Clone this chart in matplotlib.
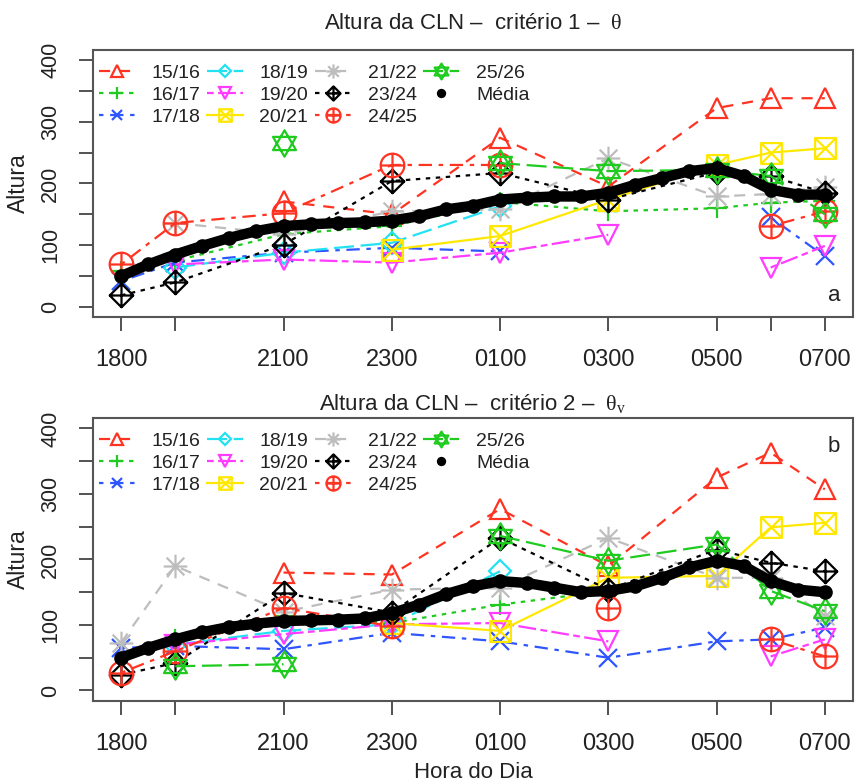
import numpy as np
import matplotlib
matplotlib.use("Agg")
import matplotlib.pyplot as plt
from matplotlib.path import Path

plt.rcParams['font.family'] = ['Liberation Sans', 'DejaVu Sans']
plt.rcParams['mathtext.fontset'] = 'custom'
plt.rcParams['mathtext.rm'] = 'Liberation Serif'
plt.rcParams['mathtext.it'] = 'Liberation Serif'

nan = np.nan

# hours (18 = 1800, 25 = 0100 of next day, ...)
horas = [18, 19, 21, 23, 25, 27, 29, 30, 31]
hora_labels = ['1800', '', '2100', '2300', '0100', '0300', '0500', '', '0700']

temporadas = ['15/16', '16/17', '17/18', '18/19', '19/20', '20/21',
              '21/22', '23/24', '24/25', '25/26']

# criterio 1 - theta
altura_a = [
    [nan, nan, 171, 150, 274, 195, 322, 338, 338],   # 15/16
    [58, 75, 118, 131, 170, 155, 160, 169, 172],     # 16/17
    [42, 72, 88, 96, 90, nan, nan, 145, 82],         # 17/18
    [nan, 64, 88, 104, 163, nan, nan, nan, nan],     # 18/19
    [nan, 69, 77, 72, 88, 117, nan, 64, 99],         # 19/20
    [nan, nan, nan, 93, 115, 174, 230, 250, 257],    # 20/21
    [nan, 136, 118, 155, 158, 241, 179, 183, 195],   # 21/22
    [19, 40, 101, 204, 217, 174, 218, 212, 185],     # 23/24
    [69, 136, 152, 230, 230, nan, nan, 131, 155],    # 24/25
    [nan, nan, 265, nan, 233, 220, 222, 212, 150],   # 25/26
]

# criterio 2 - theta_v
altura_b = [
    [nan, nan, 180, 177, 277, 190, 325, 363, 307],   # 15/16
    [nan, 78, 114, 103, 131, 152, nan, nan, nan],    # 16/17
    [65, 68, 63, 88, 75, 50, 75, 78, 96],            # 17/18
    [nan, 70, 91, 101, 182, nan, nan, nan, nan],     # 18/19
    [nan, 70, 86, 101, 103, 75, nan, 52, 78],        # 19/20
    [nan, nan, nan, 103, 91, 172, 175, 249, 256],    # 20/21
    [73, 190, 120, 154, 157, 233, 172, 172, 114],    # 21/22
    [24, 42, 149, 119, 233, 154, 215, 195, 182],     # 23/24
    [27, 60, 126, 98, nan, 126, nan, 78, 52],        # 24/25
    [nan, 37, 40, nan, 236, 198, 223, 152, 121],     # 25/26
]

# smoothed mean, read every half hour
media_hora = [18.0, 18.5, 19.0, 19.5, 20.0, 20.5, 21.0, 21.5, 22.0, 22.5,
              23.0, 23.5, 24.0, 24.5, 25.0, 25.5, 26.0, 26.5, 27.0, 27.5,
              28.0, 28.5, 29.0, 29.5, 30.0, 30.5, 31.0]
media_a = [50, 69, 85, 99, 112, 123, 131, 134, 136, 137, 140, 147, 158, 164,
           174, 177, 179, 179, 185, 198, 209, 220, 225, 212, 190, 182, 182]
media_b = [50, 65, 78, 89, 97, 102, 106, 107, 108, 110, 118, 131, 147, 159,
           167, 164, 157, 150, 152, 159, 172, 188, 198, 190, 167, 154, 150]


def seg(p0, p1):
    return Path([p0, p1], [Path.MOVETO, Path.LINETO])


def poly(pts):
    return Path(pts + [pts[0]], [Path.MOVETO] + [Path.LINETO] * (len(pts) - 1) + [Path.CLOSEPOLY])


plus_p = Path.make_compound_path(seg((-1, 0), (1, 0)), seg((0, -1), (0, 1)))
cross_p = Path.make_compound_path(seg((-0.75, -0.75), (0.75, 0.75)), seg((-0.75, 0.75), (0.75, -0.75)))
square_x = Path.make_compound_path(poly([(-1, -1), (1, -1), (1, 1), (-1, 1)]),
                                   seg((-1, -1), (1, 1)), seg((-1, 1), (1, -1)))
asterisk = Path.make_compound_path(plus_p, cross_p)
diamond_plus = Path.make_compound_path(poly([(0, -1), (1, 0), (0, 1), (-1, 0)]), plus_p)
circ = Path.unit_circle()
circle_plus = Path.make_compound_path(Path(circ.vertices * 1.0, circ.codes), plus_p)
david = Path.make_compound_path(poly([(-0.87, -0.5), (0.87, -0.5), (0, 1)]),
                                poly([(-0.87, 0.5), (0.87, 0.5), (0, -1)]))

red = '#FF3322'
green = '#1FCB1F'
cores = [red, green, '#2F55FF', '#22E2F2', '#FF3CFF', '#FFE800',
         '#BDBDBD', 'black', red, green]
marcadores = ['^', plus_p, 'x', 'D', 'v', square_x, asterisk, diamond_plus,
              circle_plus, david]
tamanhos = [15, 15, 13, 11, 15, 15, 17, 17, 17, 19]
dashed = (0, (5, 4))
dotted = (0, (2, 2.5))
dotdash = (0, (2, 3, 6, 3))
longdash = (0, (9, 3))
twodash = (0, (3, 2, 8, 2))
estilos = [dashed, dotted, dotdash, longdash, twodash, '-',
           dashed, dotted, dotdash, longdash]

txt = '#222222'

fig = plt.figure(figsize=(8.57, 7.84), dpi=100)
ax_a = fig.add_axes([0.1085, 0.5957, 0.8868, 0.3405])
ax_b = fig.add_axes([0.1085, 0.1059, 0.8868, 0.3610])


def painel(ax, alturas, media, titulo, tpad, letra, letra_y, leg_y):
    x = np.array(horas, dtype=float)
    for i, nome in enumerate(temporadas):
        y = np.array(alturas[i], dtype=float)
        ax.plot(x, y, color=cores[i], linestyle=estilos[i], lw=1.6,
                marker=marcadores[i], ms=tamanhos[i], mfc='none',
                mec=cores[i], mew=1.6, label=nome)
    ax.plot(media_hora, media, color='black', lw=7.5, solid_capstyle='round', zorder=5)
    ax.plot(media_hora, media, 'o', color='black', ms=9.5, zorder=6,
            label='Média')
    ax.set_xlim(17.48, 31.52)
    ax.set_ylim(-16, 416)
    ax.set_xticks(horas)
    ax.set_xticklabels(hora_labels, fontsize=17)
    ax.set_yticks([0, 50, 100, 150, 200, 250, 300, 350, 400])
    ax.set_yticklabels(['0', '', '100', '', '200', '', '300', '', '400'],
                       rotation=90, va='center', fontsize=15.5)
    ax.tick_params(axis='both', length=10, width=1.3, color='#444444',
                   labelcolor=txt)
    ax.tick_params(axis='x', pad=13)
    ax.tick_params(axis='y', pad=13)
    for s in ax.spines.values():
        s.set_color('#555555')
        s.set_linewidth(1.5)
    ax.set_ylabel('Altura', fontsize=16.5, color=txt)
    ax.yaxis.set_label_coords(-0.083, 0.5)
    ax.set_title(titulo, fontsize=16, color=txt, pad=tpad)
    ax.text(0.983, letra_y, letra, transform=ax.transAxes, fontsize=16,
            ha='right', va='center', color=txt)
    leg = ax.legend(loc='upper left', ncol=4, frameon=False, fontsize=14,
                    markerscale=0.6, handlelength=1.85, handletextpad=0.85,
                    columnspacing=0.35, labelspacing=0.22, borderpad=0.2,
                    borderaxespad=0.1, bbox_to_anchor=(0.0, leg_y))
    for t in leg.get_texts():
        t.set_color(txt)


painel(ax_a, altura_a, media_a, 'Altura da CLN –  critério 1 –  $\\mathrm{\\theta}$',
       15, 'a', 0.08, 0.968)
painel(ax_b, altura_b, media_b,
       'Altura da CLN –  critério 2 –  $\\mathrm{\\theta}_\\mathrm{v}$', 6, 'b', 0.9, 0.97)
fig.text(0.552, 1 - 772 / 784, 'Hora do Dia', fontsize=16, color=txt,
         ha='center', va='center')

fig.savefig('out.png', dpi=100)
